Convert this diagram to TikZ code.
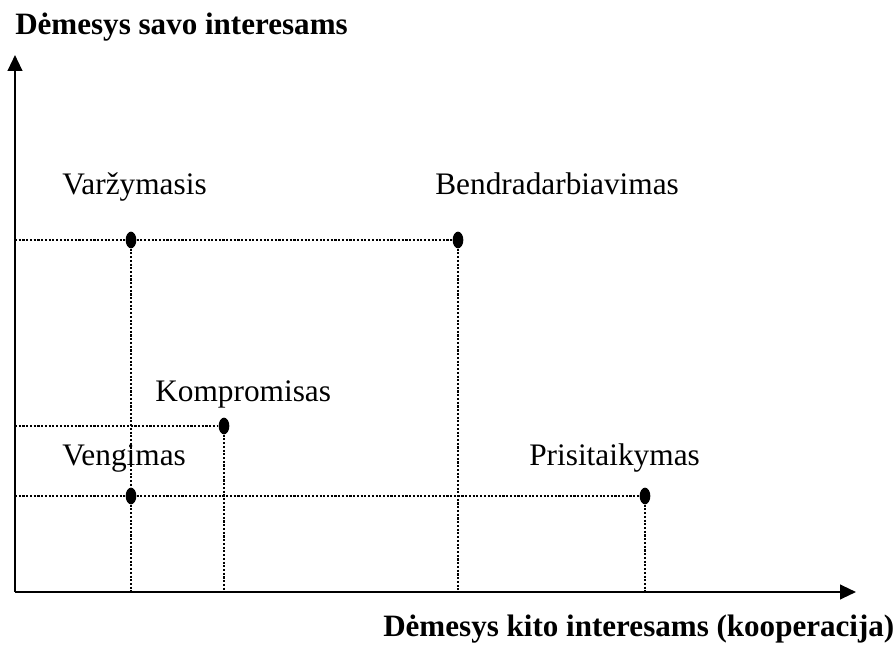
\documentclass[tikz,border=0pt]{standalone}
\usepackage{fontspec}
\setmainfont{Liberation Serif}
\usetikzlibrary{arrows.meta,shapes.geometric}
\begin{document}
\begin{tikzpicture}[x=0.75pt,y=-0.75pt,
  axis/.style={line width=1.6pt,-{Triangle[length=12pt,width=11pt]}},
  guide/.style={line width=1.8pt,dash pattern=on 1.6pt off 1.2pt},
  pt/.style={ellipse,fill=black,minimum width=8pt,minimum height=12.5pt,inner sep=0pt},
  lbl/.style={anchor=base west,inner sep=0pt,font=\fontsize{23.5}{28}\selectfont},
  ttl/.style={lbl,font=\fontsize{23.3}{28}\selectfont\bfseries}]
\useasboundingbox (0,0) rectangle (896,648);

% axes
\coordinate (o) at (15,592);
\coordinate (ytop) at (15,55);
\coordinate (xend) at (856,592);
\draw[axis] (o) -- (ytop);
\draw[axis] (o) -- (xend);

% strategy points
\node[pt] (var) at (131,240) {};
\node[pt] (ben) at (458,240) {};
\node[pt] (kom) at (224,426) {};
\node[pt] (ven) at (131,496) {};
\node[pt] (pri) at (645,496) {};

% feet of the guide lines on the axes
\coordinate (yv) at (15,240);
\coordinate (yk) at (15,426);
\coordinate (yp) at (15,496);
\coordinate (xv) at (131,592);
\coordinate (xk) at (224,592);
\coordinate (xb) at (458,592);
\coordinate (xp) at (645,592);

% dotted guide lines
\draw[guide] (yv) -- (var);
\draw[guide] (var) -- (ben);
\draw[guide] (var) -- (ven);
\draw[guide] (ven) -- (xv);
\draw[guide] (ben) -- (xb);
\draw[guide] (yk) -- (kom);
\draw[guide] (kom) -- (xk);
\draw[guide] (yp) -- (ven);
\draw[guide] (ven) -- (pri);
\draw[guide] (pri) -- (xp);

% labels
\node[ttl] (ty) at (15,35) {Dėmesys savo interesams};
\node[ttl] (tx) at (383,636) {Dėmesys kito interesams (kooperacija)};
\node[lbl] (lvar) at (62,195) {Varžymasis};
\node[lbl] (lben) at (435,195) {Bendradarbiavimas};
\node[lbl] (lkom) at (155,402) {Kompromisas};
\node[lbl] (lven) at (62,465) {Vengimas};
\node[lbl] (lpri) at (529,465) {Prisitaikymas};
\end{tikzpicture}
\end{document}
